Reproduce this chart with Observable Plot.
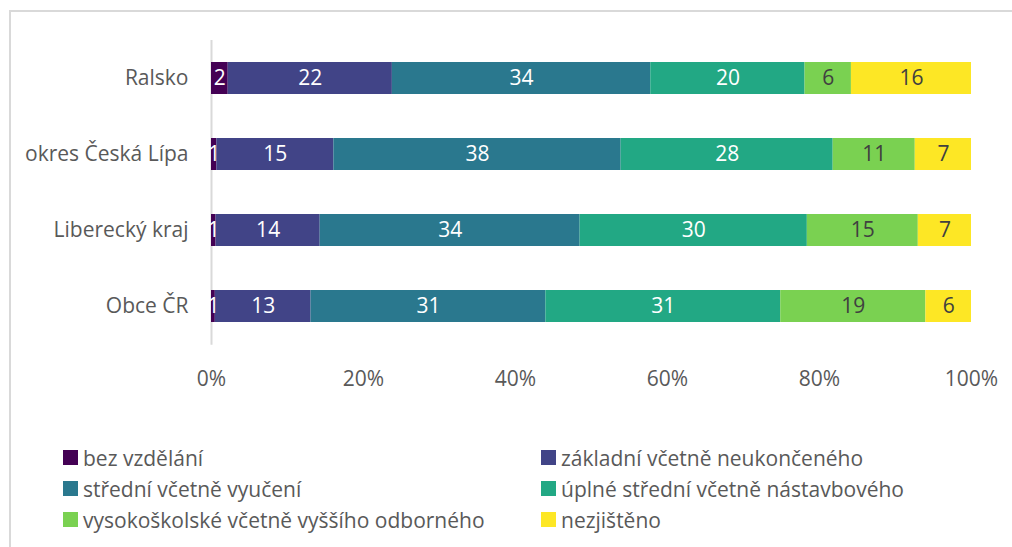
<!DOCTYPE html>
<html>
<head>
<meta charset="utf-8">
<script src="https://cdn.jsdelivr.net/npm/d3@7"></script>
<script src="https://cdn.jsdelivr.net/npm/@observablehq/plot@0.6"></script>
<style>
  body { margin: 0; background: #fff; font-family: "Open Sans", sans-serif; }
  #wrap { position: relative; width: 1012px; height: 547px; overflow: hidden; background: #fff; }
  #frame { position: absolute; left: 9px; top: 10px; width: 1100px; height: 700px;
           border-top: 2px solid #d9d9d9; border-left: 2px solid #d9d9d9; }
  #chart { position: absolute; left: 0; top: 0; }
  #legend { position: absolute; left: 63px; top: 442px; display: grid;
            grid-template-columns: 478px auto; }
  .item { display: flex; align-items: center; height: 31px; font-size: 21px; color: #595959; white-space: nowrap; }
  .sw { width: 15px; height: 15px; margin-right: 5px; flex: none; }
</style>
</head>
<body>
<div id="wrap">
  <div id="frame"></div>
  <div id="chart"></div>
  <div id="legend"></div>
</div>
<script>
const categories = ["Ralsko", "okres Česká Lípa", "Liberecký kraj", "Obce ČR"];
const levels = [
  "bez vzdělání",
  "základní včetně neukončeného",
  "střední včetně vyučení",
  "úplné střední včetně nástavbového",
  "vysokoškolské včetně vyššího odborného",
  "nezjištěno"
];
const colors = ["#440154", "#414487", "#2a788e", "#22a884", "#7ad151", "#fde725"];

// shares (%) per category, in the order of `levels`
const ralsko = [2.2, 21.6, 34.0, 20.3, 6.1, 15.8];
const okresCeskaLipa = [0.7, 15.4, 37.8, 27.9, 10.8, 7.4];
const libereckyKraj = [0.6, 13.7, 34.2, 29.9, 14.6, 7.0];
const obceCR = [0.5, 12.6, 30.9, 30.9, 19.1, 6.0];

const xTicks = [0, 20, 40, 60, 80, 100];

const series = [ralsko, okresCeskaLipa, libereckyKraj, obceCR];
const rows = [];
categories.forEach((cat, ci) => {
  levels.forEach((level, li) => {
    rows.push({cat, level, li, value: series[ci][li]});
  });
});

const H = 400;
const chart = Plot.plot({
  width: 1012,
  height: H,
  marginLeft: 211,
  marginRight: 41,
  marginTop: 40,
  marginBottom: H - 344.8,
  style: {fontFamily: "Open Sans", fontSize: "21px", color: "#595959", background: "transparent"},
  x: {domain: [0, 100], label: null},
  y: {domain: categories, paddingInner: 0.58, paddingOuter: 0.29, label: null},
  color: {domain: levels, range: colors},
  marks: [
    Plot.ruleX([0], {stroke: "#d9d9d9", strokeWidth: 2}),
    Plot.barX(rows, Plot.stackX({x: "value", y: "cat", fill: "level"})),
    Plot.text(rows, Plot.stackX({x: "value", y: "cat", z: "level",
      text: d => d.li < 4 ? String(Math.round(d.value)) : "", fill: "white", fontSize: 21})),
    Plot.text(rows, Plot.stackX({x: "value", y: "cat", z: "level",
      text: d => d.li >= 4 ? String(Math.round(d.value)) : "", fill: "#404040", fontSize: 21})),
    Plot.axisX({ticks: xTicks, tickFormat: d => d + "%", tickSize: 0, tickPadding: 26, label: null}),
    Plot.axisY({tickSize: 0, tickPadding: 23, label: null})
  ]
});
document.getElementById("chart").appendChild(chart);

const legend = document.getElementById("legend");
levels.forEach((level, i) => {
  const item = document.createElement("div");
  item.className = "item";
  const sw = document.createElement("span");
  sw.className = "sw";
  sw.style.background = colors[i];
  const t = document.createElement("span");
  t.textContent = level;
  item.appendChild(sw);
  item.appendChild(t);
  legend.appendChild(item);
});
</script>
</body>
</html>
